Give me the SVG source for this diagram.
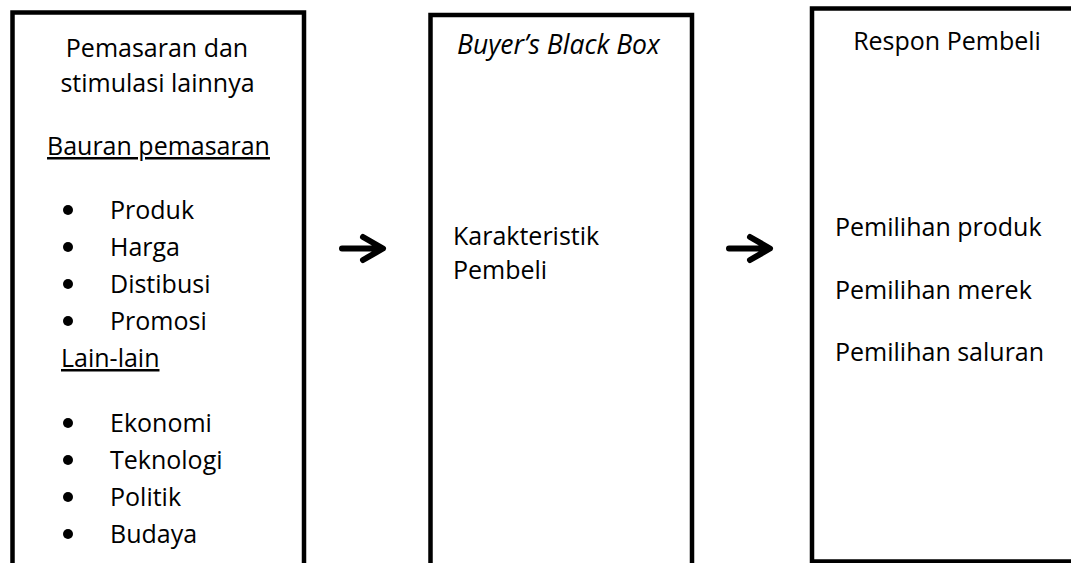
<svg xmlns="http://www.w3.org/2000/svg" width="1071" height="563" viewBox="0 0 1071 563">
<style>
.box{fill:#fff;stroke:#000;stroke-width:4.5}
text{font-family:"Open Sans","Liberation Sans",sans-serif;font-size:25px;fill:#000}
.c{text-anchor:middle}
.u{text-decoration:underline}
.i{font-style:italic;font-size:26.5px}
.arr{fill:none;stroke:#000;stroke-width:6;stroke-linecap:round;stroke-linejoin:round}
</style>
<rect width="1071" height="563" fill="#fff"/>
<g id="stimuli">
<rect class="box" x="12.5" y="12.5" width="291.5" height="600"/>
<text class="c" x="157" y="57">Pemasaran dan</text>
<text class="c" x="157.5" y="92">stimulasi lainnya</text>
<text class="c u" x="158.5" y="155">Bauran pemasaran</text>
<g>
<circle cx="68" cy="210" r="5"/><text x="110" y="219">Produk</text>
<circle cx="68" cy="247" r="5"/><text x="110" y="256">Harga</text>
<circle cx="68" cy="284" r="5"/><text x="110" y="293">Distibusi</text>
<circle cx="68" cy="321" r="5"/><text x="110" y="330">Promosi</text>
</g>
<text class="u" x="61" y="367">Lain-lain</text>
<g>
<circle cx="68" cy="423" r="5"/><text x="110" y="432">Ekonomi</text>
<circle cx="68" cy="460" r="5"/><text x="110" y="469">Teknologi</text>
<circle cx="68" cy="497" r="5"/><text x="110" y="506">Politik</text>
<circle cx="68" cy="534" r="5"/><text x="110" y="543">Budaya</text>
</g>
</g>
<g id="blackbox">
<rect class="box" x="430.5" y="15" width="261.5" height="600"/>
<text class="i" x="457" y="54">Buyer’s Black Box</text>
<text x="453" y="245">Karakteristik</text>
<text x="453" y="279">Pembeli</text>
</g>
<g id="response">
<rect class="box" x="812" y="8.5" width="300" height="553"/>
<text class="c" x="947" y="50">Respon Pembeli</text>
<text x="835" y="236">Pemilihan produk</text>
<text x="835" y="299">Pemilihan merek</text>
<text x="835" y="361">Pemilihan saluran</text>
</g>
<g id="connectors">
<path class="arr" d="M342 248.5H382M363 237L383 248.5L363 260"/>
<path class="arr" d="M729 248.5H769M750 237L770 248.5L750 260"/>
</g>
</svg>
